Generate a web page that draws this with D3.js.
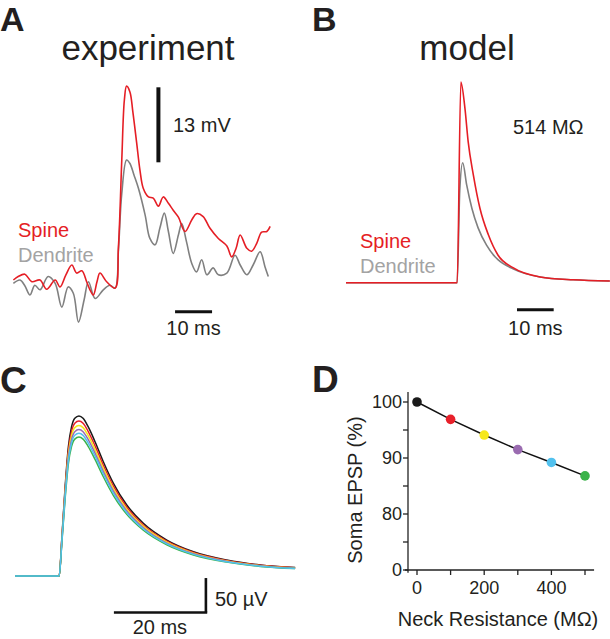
<!DOCTYPE html>
<html><head><meta charset="utf-8">
<script src="https://cdn.jsdelivr.net/npm/d3@7"></script>
<style>
body{margin:0;background:#fff}
svg{display:block}
text{font-family:"Liberation Sans",Arial,Helvetica,sans-serif;fill:#231f20}
</style>
</head><body>
<svg id="fig" width="610" height="639"></svg>
<script>
// ---------- Panel A: experiment (time ms, voltage mV) ----------
const expSpine = [[0.1,0],[1.4,0.6],[3.2,1.0],[5.1,-0.3],[7.3,0],[9.1,-1.6],[11.4,0],[12.7,-1.2],[14.3,0.9],[15.9,2.6],[17.2,1.2],[18.6,1.6],[19.9,-0.3],[20.8,-1.7],[21.7,-2.6],[22.7,-0.3],[23.5,1.2],[25.3,-0.3],[27.6,-1.4],[28.5,5.8],[29.4,20.8],[30.1,31.2],[30.7,33.6],[31.6,32.6],[32.4,29.1],[33.4,23.9],[34.3,19.1],[35.2,15.9],[36.6,14.4],[37.9,14.2],[39.3,12.8],[40.6,14.4],[42.0,13.3],[43.3,12.1],[44.7,10.9],[46.5,8.4],[48.3,10.4],[49.6,11.5],[51.4,11.0],[53.2,9.0],[55.5,7.2],[57.8,5.9],[59.1,4.0],[60.3,5.5],[61.4,7.8],[63.2,5.5],[64.5,5.0],[65.9,6.4],[67.2,8.3],[68.6,8.4],[69.5,9.3]];
const expDendrite = [[0.1,-0.6],[1.9,0],[3.2,-1.0],[4.6,-2.6],[5.9,-0.9],[7.3,-1.7],[9.5,0.6],[11.4,-0.6],[13.2,-4.7],[14.9,-1.2],[16.3,-2.3],[17.7,-7.3],[19.2,-3.5],[20.4,-0.3],[22.2,-3.2],[24.4,-1.7],[26.2,-0.9],[27.6,-1.4],[28.5,5.2],[29.4,15.0],[30.7,20.8],[31.6,20.2],[32.7,18.2],[33.9,15.9],[35.7,11.3],[37.0,7.2],[38.4,6.1],[39.7,9.0],[40.9,11.6],[42.0,8.4],[43.3,4.6],[44.7,7.8],[45.6,9.8],[46.9,6.6],[48.3,2.9],[49.6,1.4],[51.0,3.5],[52.4,0.9],[54.1,2.1],[55.5,0.9],[57.8,1.2],[60.0,4.3],[61.4,2.6],[63.2,0.9],[64.9,2.6],[66.8,4.9],[68.1,2.3],[69.0,0.6]];

// ---------- Panel B: model (time ms, voltage mV) ----------
const modelSpine = [[0,0],[30.3,0],[31.3,34.8],[32.4,30.3],[33.3,24.4],[34.7,18.7],[36.5,12.9],[38.8,8.3],[41.4,4.8],[45.5,2.6],[52.9,1.0],[61.9,0.5],[71.9,0.3]];
const modelDendrite = [[0,0],[30.3,0],[31.0,16.0],[31.8,20.8],[32.9,16.9],[34.3,12.9],[36.0,9.5],[38.3,6.5],[40.6,4.5],[41.4,4.0],[45.5,2.4],[52.9,1.0],[61.9,0.5],[71.9,0.3]];
const modelNeckLabel = "514 MΩ";

// ---------- Panel C: soma EPSP waveform at 0 MΩ (time ms, µV) ----------
const somaWave = [[0,0],[9.6,0],[10.2,57.8],[10.9,131],[11.6,190],[12.3,219.6],[13.0,231.9],[13.9,235.3],[14.8,231.9],[15.9,219.6],[17.4,197.5],[19.2,168.1],[21.4,136.3],[24.3,104.4],[27.9,77.5],[33.0,52.9],[38.8,35.7],[46.0,23.5],[53.3,16.2],[60.9,12.5]];

// ---------- Panel D: neck resistance vs soma EPSP ----------
const neckResistance = [0,100,200,300,400,500];
const somaEPSP = [100,96.9,94.1,91.5,89.2,86.8];
const dotColors = ["#1a1a1a","#e8202a","#f6e81c","#9a6bb0","#52c1ee","#3bb34a"];
const xTickLabels = ["0","200","400"];
const yTickLabels = ["0","80","90","100"];

const RED = "#e51e25", GRAY = "#808080", GRAYTXT = "#a3a3a3";
const svg = d3.select("#fig");

function txt(x,y,s,opt={}){
  const t = svg.append("text").attr("x",x).attr("y",y).text(s)
    .style("font-size",(opt.size||20)+"px");
  if(opt.bold) t.style("font-weight","bold");
  if(opt.anchor) t.attr("text-anchor",opt.anchor);
  if(opt.fill) t.style("fill",opt.fill);
  return t;
}
function bar(x1,y1,x2,y2,w){
  svg.append("line").attr("x1",x1).attr("y1",y1).attr("x2",x2).attr("y2",y2)
    .attr("stroke","#111").attr("stroke-width",w);
}

// Panel letters and titles
txt(0,31,"A",{size:34,bold:true});
txt(312,31,"B",{size:34,bold:true});
txt(0,393,"C",{size:37,bold:true});
txt(312,392,"D",{size:37,bold:true});
txt(148,60,"experiment",{size:35,anchor:"middle"});
txt(467,60,"model",{size:35,anchor:"middle"});

// ----- A -----
const xA = d3.scaleLinear().domain([0,70]).range([13,272]);
const yA = d3.scaleLinear().domain([0,13]).range([280,205]);
const lineA = d3.line().x(d=>xA(d[0])).y(d=>yA(d[1])).curve(d3.curveCatmullRom.alpha(0.5));
svg.append("path").attr("d",lineA(expDendrite)).attr("fill","none").attr("stroke",GRAY).attr("stroke-width",1.6);
svg.append("path").attr("d",lineA(expSpine)).attr("fill","none").attr("stroke",RED).attr("stroke-width",1.6);
bar(xA(39.3),yA(20.4),xA(39.3),yA(33.4),4);
bar(xA(43.8),yA(-5.5),xA(53.8),yA(-5.5),3);
txt(173,132,"13 mV");
txt((xA(43.8)+xA(53.8))/2,335,"10 ms",{anchor:"middle"});
txt(18,237,"Spine",{fill:RED});
txt(18,262,"Dendrite",{fill:GRAYTXT});

// ----- B -----
const xB = d3.scaleLinear().domain([0,72]).range([346,610.2]);
const yB = d3.scaleLinear().domain([0,13]).range([282.7,207.7]);
const lineB = d3.line().x(d=>xB(d[0])).y(d=>yB(d[1])).curve(d3.curveMonotoneX);
svg.append("path").attr("d",lineB(modelDendrite)).attr("fill","none").attr("stroke",GRAY).attr("stroke-width",1.6);
svg.append("path").attr("d",lineB(modelSpine)).attr("fill","none").attr("stroke",RED).attr("stroke-width",1.6);
bar(xB(46.6),yB(-4.7),xB(56.6),yB(-4.7),3);
txt(513,134,modelNeckLabel);
txt((xB(46.6)+xB(56.6))/2,335,"10 ms",{anchor:"middle"});
txt(360,248,"Spine",{fill:RED});
txt(360,273,"Dendrite",{fill:GRAYTXT});

// ----- C -----
const xC = d3.scaleLinear().domain([0,61]).range([15,295.6]);
const yC = d3.scaleLinear().domain([0,50]).range([576,542]);
const lineC = d3.line().x(d=>xC(d[0])).y(d=>yC(d[1])).curve(d3.curveMonotoneX);
const drawOrder = [0,1,2,3,5,4];
drawOrder.forEach(i=>{
  const k = somaEPSP[i]/100;
  svg.append("path").attr("d",lineC(somaWave.map(d=>[d[0],d[1]*k])))
    .attr("fill","none").attr("stroke",dotColors[i]).attr("stroke-width",1.5);
});
bar(xC(41.5),yC(-3),xC(41.5),yC(-53.7),2.6);
bar(xC(21.5),yC(-53.7),xC(41.5)+1.3,yC(-53.7),2.6);
txt(215,606,"50 µV");
txt((xC(21.5)+xC(41.5))/2,634,"20 ms",{anchor:"middle"});

// ----- D -----
const xD = d3.scaleLinear().domain([0,500]).range([417,585]);
const yD = d3.scaleLinear().domain([70,100]).range([570,402]);
const gD = svg.append("g");
gD.append("line").attr("x1",xD(-36)).attr("x2",xD(527)).attr("y1",yD(70)).attr("y2",yD(70)).attr("stroke","#222").attr("stroke-width",1.3);
gD.append("line").attr("x1",408).attr("x2",408).attr("y1",yD(69.5)).attr("y2",yD(101.8)).attr("stroke","#222").attr("stroke-width",1.3);
neckResistance.forEach(v=>{
  gD.append("line").attr("x1",xD(v)).attr("x2",xD(v)).attr("y1",yD(70)).attr("y2",yD(70)+5).attr("stroke","#222").attr("stroke-width",1.3);
});
[0,200,400].forEach((v,i)=>{
  gD.append("text").attr("x",xD(v)).attr("y",594).attr("text-anchor","middle").style("font-size","18px").text(xTickLabels[i]);
});
[70,75,80,85,90,95,100].forEach(v=>{
  gD.append("line").attr("x1",408).attr("x2",403).attr("y1",yD(v)).attr("y2",yD(v)).attr("stroke","#222").attr("stroke-width",1.3);
});
[70,80,90,100].forEach((v,i)=>{
  gD.append("text").attr("x",402).attr("y",yD(v)).attr("dy","0.36em").attr("text-anchor","end").style("font-size","18px").text(yTickLabels[i]);
});
const lineD = d3.line().x((d,i)=>xD(neckResistance[i])).y(d=>yD(d));
gD.append("path").attr("d",lineD(somaEPSP)).attr("fill","none").attr("stroke","#111").attr("stroke-width",1.5);
somaEPSP.forEach((v,i)=>{
  gD.append("circle").attr("cx",xD(neckResistance[i])).attr("cy",yD(v)).attr("r",4.8).attr("fill",dotColors[i]);
});
svg.append("text").attr("transform","translate(362,490) rotate(-90)").attr("text-anchor","middle").style("font-size","20px").text("Soma EPSP (%)");
txt(498,626,"Neck Resistance (MΩ)",{anchor:"middle"});
</script>
</body></html>
